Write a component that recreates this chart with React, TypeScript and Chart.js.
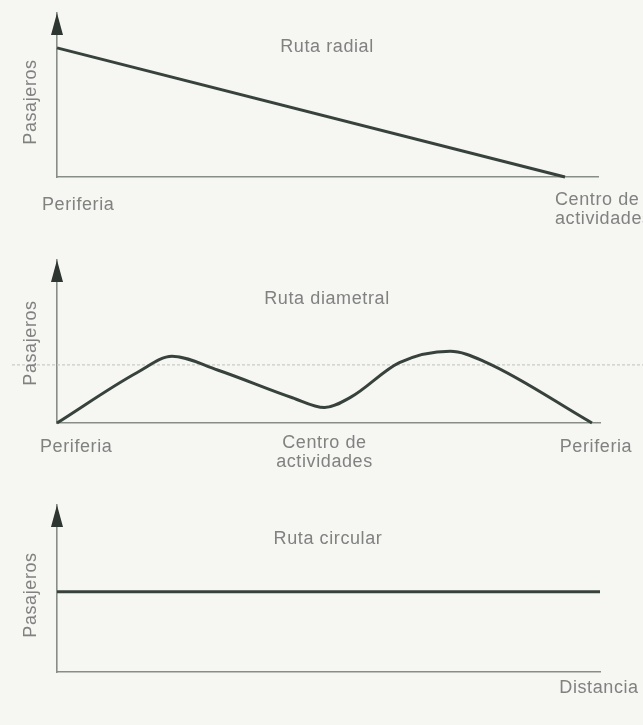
import React, { useEffect, useRef } from "react";
import { Chart, registerables } from "chart.js";

Chart.register(...registerables);

// ---- Data ----
const radialDistance = [0, 100];
const radialPassengers = [100, 0];

const diametralDistance = [0, 15, 21.5, 30, 44, 50, 55, 64, 73.5, 80, 100];
const diametralPassengers = [0, 31, 41, 32.5, 15.5, 9.5, 16, 37, 44, 37.5, 0];
const diametralReference = 35.6;

const circularDistance = [0, 100];
const circularPassengers = [48, 48];

const titles = ["Ruta radial", "Ruta diametral", "Ruta circular"];
const yAxisLabel = "Pasajeros";
const radialXLabels = ["Periferia", "Centro de\nactividades"];
const diametralXLabels = ["Periferia", "Centro de\nactividades", "Periferia"];
const circularXLabels = ["Distancia"];

// ---- Styles ----
const LINE = "#38423d";
const AXIS = "#878e88";
const TEXT = "#808280";
const FONT = '18px "Liberation Sans", Arial, sans-serif';

type LabelSpec = { text: string; value: number; align: CanvasTextAlign; dx: number; y: number };

type PanelProps = {
  top: number;
  height: number;
  padding: { left: number; right: number; top: number; bottom: number };
  xs: number[];
  ys: number[];
  xMax: number;
  yMax: number;
  title: string;
  titleX: number;
  titleY: number;
  yLabelX: number;
  yLabelY: number;
  labels: LabelSpec[];
  refValue?: number;
  smooth?: boolean;
};

function drawText(ctx: CanvasRenderingContext2D, text: string, x: number, y: number, align: CanvasTextAlign) {
  ctx.save();
  ctx.font = FONT;
  (ctx as any).letterSpacing = "0.6px";
  ctx.fillStyle = TEXT;
  ctx.textAlign = align;
  ctx.textBaseline = "middle";
  ctx.fillText(text, x, y);
  ctx.restore();
}

function Panel(p: PanelProps) {
  const ref = useRef<HTMLCanvasElement | null>(null);
  useEffect(() => {
    if (!ref.current) return;
    const decor = {
      id: "decor",
      beforeDatasetsDraw(chart: any) {
        if (p.refValue === undefined) return;
        const ctx = chart.ctx as CanvasRenderingContext2D;
        const y = chart.scales.y.getPixelForValue(p.refValue);
        ctx.save();
        ctx.strokeStyle = "#c9ccc6";
        ctx.lineWidth = 1.2;
        ctx.setLineDash([3, 2]);
        ctx.beginPath();
        ctx.moveTo(12, y);
        ctx.lineTo(chart.width, y);
        ctx.stroke();
        ctx.restore();
      },
      afterDraw(chart: any) {
        const ctx = chart.ctx as CanvasRenderingContext2D;
        const { left, top } = chart.chartArea;
        // arrow head
        ctx.save();
        ctx.fillStyle = "#2e3631";
        ctx.beginPath();
        ctx.moveTo(left, top);
        ctx.lineTo(left - 6, top + 22);
        ctx.lineTo(left + 6, top + 22);
        ctx.closePath();
        ctx.fill();
        ctx.restore();
        // title
        drawText(ctx, p.title, p.titleX, p.titleY, "center");
        // y label
        ctx.save();
        ctx.translate(p.yLabelX, p.yLabelY);
        ctx.rotate(-Math.PI / 2);
        drawText(ctx, yAxisLabel, 0, 0, "center");
        ctx.restore();
        // x labels
        const xs = chart.scales.x;
        p.labels.forEach((l) => {
          const x = xs.getPixelForValue(l.value) + l.dx;
          l.text.split("\n").forEach((line, i) => {
            drawText(ctx, line, x, l.y + i * 19, l.align);
          });
        });
      },
    };
    const chart = new Chart(ref.current, {
      type: "line",
      data: {
        datasets: [
          {
            data: p.xs.map((x, i) => ({ x, y: p.ys[i] })),
            borderColor: LINE,
            borderWidth: 3,
            pointRadius: 0,
            fill: false,
            clip: false as any,
            cubicInterpolationMode: p.smooth ? "monotone" : "default",
            tension: 0,
          },
        ],
      },
      options: {
        animation: false,
        responsive: false,
        events: [],
        layout: { padding: p.padding },
        plugins: { legend: { display: false }, title: { display: false }, tooltip: { enabled: false } },
        scales: {
          x: {
            type: "linear",
            min: 0,
            max: p.xMax,
            ticks: { display: false },
            grid: { display: false, drawTicks: false },
            border: { display: true, color: AXIS, width: 1.6 },
          },
          y: {
            type: "linear",
            min: 0,
            max: p.yMax,
            ticks: { display: false },
            grid: { display: false, drawTicks: false },
            border: { display: true, color: AXIS, width: 1.6 },
          },
        },
      },
      plugins: [decor],
    });
    return () => chart.destroy();
  }, []);
  return (
    <canvas
      ref={ref}
      width={643}
      height={p.height}
      style={{ position: "absolute", left: 0, top: p.top, width: 643, height: p.height }}
    />
  );
}

export default function App() {
  return (
    <div
      style={{
        position: "fixed",
        left: 0,
        top: 0,
        width: 643,
        height: 725,
        background: "#f6f6f3",
        overflow: "hidden",
      }}
    >
      <Panel
        top={0}
        height={235}
        padding={{ left: 57, top: 13, right: 45, bottom: 58 }}
        xs={radialDistance}
        ys={radialPassengers}
        xMax={106.5}
        yMax={127}
        title={titles[0]}
        titleX={327}
        titleY={47}
        yLabelX={31}
        yLabelY={102}
        labels={[
          { text: radialXLabels[0], value: 0, align: "left", dx: -15, y: 205 },
          { text: radialXLabels[1], value: 100, align: "left", dx: -10, y: 200 },
        ]}
      />
      <Panel
        top={235}
        height={250}
        padding={{ left: 57, top: 25, right: 43, bottom: 62 }}
        xs={diametralDistance}
        ys={diametralPassengers}
        xMax={101.5}
        yMax={100}
        title={titles[1]}
        titleX={327}
        titleY={64}
        yLabelX={31}
        yLabelY={108}
        refValue={diametralReference}
        smooth
        labels={[
          { text: diametralXLabels[0], value: 0, align: "left", dx: -17, y: 212 },
          { text: diametralXLabels[1], value: 50, align: "center", dx: 0, y: 208 },
          { text: diametralXLabels[2], value: 100, align: "center", dx: 4, y: 212 },
        ]}
      />
      <Panel
        top={485}
        height={240}
        padding={{ left: 57, top: 20, right: 43, bottom: 53 }}
        xs={circularDistance}
        ys={circularPassengers}
        xMax={100}
        yMax={100}
        title={titles[2]}
        titleX={328}
        titleY={54}
        yLabelX={31}
        yLabelY={110}
        labels={[{ text: circularXLabels[0], value: 100, align: "center", dx: -1, y: 203 }]}
      />
    </div>
  );
}
